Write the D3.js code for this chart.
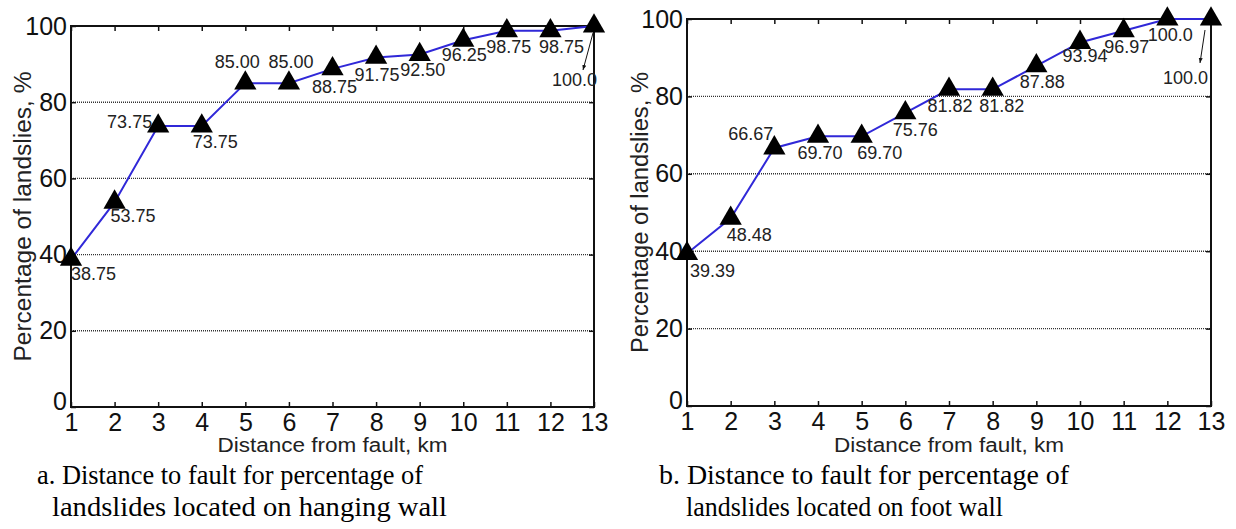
<!DOCTYPE html>
<html>
<head>
<meta charset="utf-8">
<script src="https://cdn.jsdelivr.net/npm/d3@7"></script>
<style>
  body { margin: 0; background: #fff; }
  svg { display: block; }
  .tick text { font-family: "Liberation Sans", Arial, sans-serif; fill: #111; }
</style>
</head>
<body>
<svg id="chart"></svg>
<script>
// ---- data ----
var distances = [1, 2, 3, 4, 5, 6, 7, 8, 9, 10, 11, 12, 13];
var yTicks = [0, 20, 40, 60, 80, 100];
var gridValues = [20, 40, 60, 80];

var hangingWall = [38.75, 53.75, 73.75, 73.75, 85.00, 85.00, 88.75, 91.75, 92.50, 96.25, 98.75, 98.75, 100.0];
var hangingLabels = ["38.75", "53.75", "73.75", "73.75", "85.00", "85.00", "88.75", "91.75", "92.50", "96.25", "98.75", "98.75", "100.0"];

var footWall = [39.39, 48.48, 66.67, 69.70, 69.70, 75.76, 81.82, 81.82, 87.88, 93.94, 96.97, 100.0, 100.0];
var footLabels = ["39.39", "48.48", "66.67", "69.70", "69.70", "75.76", "81.82", "81.82", "87.88", "93.94", "96.97", "100.0", "100.0"];

var xTitle = "Distance from fault, km";
var yTitle = "Percentage of landslies, %";
var hangingCaption = ["a. Distance to fault for percentage of", "landslides located on hanging wall"];
var footCaption = ["b. Distance to fault for percentage of", "landslides located on foot wall"];

// ---- label placement (anchor, dx, dy from the marker) ----
var hangingPlace = [["start",0,15],["start",-4,14],["end",-6,-4],["start",-9,16],["middle",-8,-21],["middle",2,-21],
  ["middle",2,18],["middle",1,18],["middle",3,15],["middle",1,15],["middle",2,16],["middle",11,16],["end",3,54]];
var footPlace = [["start",3,17],["start",-4,17],["end",-1,-14],["middle",2,17],["middle",18,17],["middle",10,17],
  ["middle",1,17],["middle",9,17],["middle",6,16],["middle",5,14],["middle",3,16],["middle",3,16],["end",-3,59]];

var W = 1236, H = 529;
var svg = d3.select('#chart').attr('width', W).attr('height', H);

svg.append('defs').append('marker')
    .attr('id', 'arrow')
    .attr('viewBox', '0 -5 10 10')
    .attr('refX', 10)
    .attr('refY', 0)
    .attr('markerWidth', 5)
    .attr('markerHeight', 5)
    .attr('orient', 'auto')
  .append('path')
    .attr('d', 'M0,-4L10,0L0,4Z')
    .attr('fill', '#111');

var panels = [
  {values: hangingWall, labels: hangingLabels, place: hangingPlace, caption: hangingCaption,
   left: 71, right: 594, top: 26, bottom: 407, yTitleX: 23, yTitleLen: 290,
   arrow: [-1, 7, -11, 44], capX: [37, 52], capLen: [386, 395]},
  {values: footWall, labels: footLabels, place: footPlace, caption: footCaption,
   left: 687, right: 1211, top: 19, bottom: 406, yTitleX: 640, yTitleLen: 281,
   arrow: [-6, 11, -11, 44], capX: [659, 686], capLen: [410, 317]}
];

panels.forEach(function(p) {
  var x = d3.scaleLinear().domain([1, 13]).range([p.left, p.right]);
  var y = d3.scaleLinear().domain([0, 100]).range([p.bottom, p.top]);
  var g = svg.append('g');

  // grid
  g.append('g').selectAll('line')
      .data(gridValues)
    .enter().append('line')
      .attr('x1', p.left).attr('x2', p.right)
      .attr('y1', function(d){ return y(d); })
      .attr('y2', function(d){ return y(d); })
      .attr('stroke', '#333')
      .attr('stroke-width', 1.4)
      .attr('stroke-dasharray', '1,1');

  // axes, ticks pointing inward
  var bottomAx = g.append('g')
      .attr('transform', 'translate(0,' + p.bottom + ')')
      .call(d3.axisBottom(x).tickValues(distances).tickSizeInner(-5).tickSizeOuter(0).tickPadding(6));
  bottomAx.selectAll('text').style('font-size', '25px');

  var leftAx = g.append('g')
      .attr('transform', 'translate(' + p.left + ',0)')
      .call(d3.axisLeft(y).tickValues(yTicks).tickSizeInner(-5).tickSizeOuter(0).tickPadding(4));
  leftAx.selectAll('text').style('font-size', '25px')
      .attr('dy', function(d){ return d === 0 ? '0.1em' : '0.32em'; });

  g.append('g')
      .attr('transform', 'translate(0,' + p.top + ')')
      .call(d3.axisTop(x).tickValues(distances).tickSizeInner(-5).tickSizeOuter(0).tickFormat(''));
  g.append('g')
      .attr('transform', 'translate(' + p.right + ',0)')
      .call(d3.axisRight(y).tickValues(yTicks).tickSizeInner(-5).tickSizeOuter(0).tickFormat(''));

  g.selectAll('.domain').remove();
  g.selectAll('.tick line').attr('stroke', '#111').attr('stroke-width', 1.5);

  // frame
  g.append('rect')
      .attr('x', p.left).attr('y', p.top)
      .attr('width', p.right - p.left).attr('height', p.bottom - p.top)
      .attr('fill', 'none')
      .attr('stroke', '#111')
      .attr('stroke-width', 2);

  // titles
  g.append('text')
      .attr('x', (p.left + p.right) / 2)
      .attr('y', 452)
      .attr('text-anchor', 'middle')
      .attr('font-family', '"Liberation Sans", Arial, sans-serif')
      .attr('font-size', 20)
      .attr('fill', '#222')
      .attr('textLength', 230)
      .attr('lengthAdjust', 'spacingAndGlyphs')
      .text(xTitle);
  g.append('text')
      .attr('transform', 'translate(' + (p.yTitleX + 8) + ',' + (p.top + p.bottom) / 2 + ') rotate(-90)')
      .attr('text-anchor', 'middle')
      .attr('font-family', '"Liberation Sans", Arial, sans-serif')
      .attr('font-size', 23)
      .attr('fill', '#222')
      .attr('textLength', p.yTitleLen)
      .attr('lengthAdjust', 'spacingAndGlyphs')
      .text(yTitle);

  // line
  var line = d3.line()
      .x(function(d, i){ return x(distances[i]); })
      .y(function(d){ return y(d); });
  g.append('path')
      .datum(p.values)
      .attr('d', line)
      .attr('fill', 'none')
      .attr('stroke', '#3028d8')
      .attr('stroke-width', 2);

  // triangle markers
  g.append('g').selectAll('path')
      .data(p.values)
    .enter().append('path')
      .attr('transform', function(d, i){ return 'translate(' + x(distances[i]) + ',' + y(d) + ')'; })
      .attr('d', d3.symbol().type(d3.symbolTriangle).size(215))
      .attr('fill', '#000');

  // value labels
  g.append('g').selectAll('text')
      .data(p.values)
    .enter().append('text')
      .attr('x', function(d, i){ return x(distances[i]) + p.place[i][1]; })
      .attr('y', function(d, i){ return y(d) + p.place[i][2]; })
      .attr('text-anchor', function(d, i){ return p.place[i][0]; })
      .attr('dominant-baseline', 'central')
      .attr('font-family', '"Liberation Sans", Arial, sans-serif')
      .attr('font-size', 18)
      .attr('fill', '#222')
      .text(function(d, i){ return p.labels[i]; });

  // arrow to the last label
  var last = p.values.length - 1;
  var lx = x(distances[last]), ly = y(p.values[last]);
  g.append('line')
      .attr('x1', lx + p.arrow[0]).attr('y1', ly + p.arrow[1])
      .attr('x2', lx + p.arrow[2]).attr('y2', ly + p.arrow[3])
      .attr('stroke', '#111')
      .attr('stroke-width', 1)
      .attr('marker-end', 'url(#arrow)');

  // caption
  g.selectAll('.caption')
      .data(p.caption)
    .enter().append('text')
      .attr('class', 'caption')
      .attr('x', function(d, i){ return p.capX[i]; })
      .attr('y', function(d, i){ return 484 + i * 32; })
      .attr('font-family', '"Liberation Serif", "DejaVu Serif", serif')
      .attr('font-size', 28)
      .attr('fill', '#000')
      .attr('textLength', function(d, i){ return p.capLen[i]; })
      .attr('lengthAdjust', 'spacingAndGlyphs')
      .text(function(d){ return d; });
});
</script>
</body>
</html>
